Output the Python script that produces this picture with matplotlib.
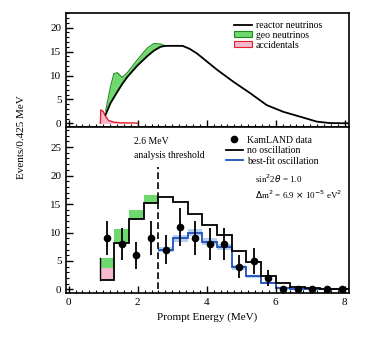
import numpy as np
import matplotlib
matplotlib.use("Agg")
import matplotlib.pyplot as plt
from matplotlib.lines import Line2D
from matplotlib.patches import Patch
from matplotlib.ticker import MultipleLocator

# ---- top panel: expected spectra ----
reactor_e = [1.07, 1.21, 1.31, 1.41, 1.55, 1.70, 1.98, 2.27, 2.47, 2.66, 2.80, 3.30,
             3.50, 3.72, 4.30, 4.77, 5.26, 5.74, 6.22, 6.70, 7.19, 7.57, 8.12]
reactor_n = [1.8, 4.2, 5.4, 6.6, 8.2, 9.7, 12.0, 14.0, 15.2, 16.0, 16.2, 16.2,
             15.6, 14.6, 11.2, 8.7, 6.3, 3.8, 2.4, 1.4, 0.35, 0.05, 0.0]
geo_top = [2.6, 7.6, 10.4, 10.6, 9.6, 10.6, 13.2, 15.7, 16.7, 16.6, 16.2]   # upper edge over reactor_e[:11]
acc_e = [0.92, 0.93, 1.00, 1.07, 1.15, 1.30, 1.50, 1.98, 1.99]
acc_n = [0.0, 2.8, 2.5, 1.5, 0.6, 0.25, 0.1, 0.05, 0.0]

# ---- bottom panel: 0.425 MeV bins ----
edges = [0.9, 1.325, 1.75, 2.175, 2.6, 3.025, 3.45, 3.875, 4.3, 4.725,
         5.15, 5.575, 6.0, 6.425, 6.85, 7.275, 7.7, 8.125]
data_n = [9, 8, 6, 9, 7, 11, 9, 8, 8, 4, 5, 2, 0, 0, 0, 0, 0]
data_err = [3.0, 2.8, 2.4, 3.0, 2.6, 3.3, 3.0, 2.8, 2.8, 2.0, 2.2, 1.4, 0, 0, 0, 0, 0]
no_osc = [1.7, 8.1, 12.3, 15.1, 16.2, 15.4, 13.2, 11.3, 9.6, 6.8, 4.9, 2.4, 1.2, 0.5, 0.3, 0.1, 0.0]
acc_bins = [2.0, 0.0, 0.0, 0.0]          # first four bins, stacked on no_osc
geo_bins = [1.8, 2.5, 1.6, 1.5]          # stacked on top of accidentals
best_fit = [7.0, 9.0, 10.0, 8.4, 7.5, 3.9, 2.3, 1.1, 0.3, 0.1, 0.0, 0.0, 0.0]   # bins above 2.6 MeV
best_fit_err = [0.5, 0.6, 0.7, 0.6, 0.5, 0.4, 0.3, 0.2, 0.1, 0.05, 0.0, 0.0, 0.0]
threshold = 2.6

GREEN, GREEN_EDGE = "#6fd86f", "#1f8a1f"
PINK, RED = "#f6b8cc", "#e0202a"
BLUE, BLUE_BAND = "#1f4fbf", "#b5cff2"

plt.rcParams.update({"font.family": ["Liberation Serif", "DejaVu Serif"],
                     "font.size": 8, "axes.linewidth": 1.2})
fig = plt.figure(figsize=(3.83, 3.39), dpi=100)
axT = fig.add_axes([0.173, 0.625, 0.738, 0.337])
axB = fig.add_axes([0.173, 0.136, 0.738, 0.489], sharex=axT)

# top
edges_a = np.array(edges)
centers = (edges_a[:-1] + edges_a[1:]) / 2
nb = len(geo_top)
axT.fill_between(reactor_e[:nb], reactor_n[:nb], geo_top, color=GREEN, lw=0)
axT.plot(reactor_e[:nb], geo_top, color=GREEN_EDGE, lw=0.8)
axT.fill_between(acc_e, 0, acc_n, color=PINK, lw=0)
axT.plot(acc_e, acc_n, color=RED, lw=1.0)
axT.plot(reactor_e, reactor_n, color="black", lw=1.3)
axT.set_ylim(-0.8, 23.1)
axT.yaxis.set_major_locator(MultipleLocator(5))
axT.yaxis.set_minor_locator(MultipleLocator(1))
axT.tick_params(labelbottom=False)
handles = [Line2D([], [], color="black", lw=1.3),
           Patch(facecolor=GREEN, edgecolor=GREEN_EDGE, lw=0.8),
           Patch(facecolor=PINK, edgecolor=RED, lw=0.8)]
axT.legend(handles, ["reactor neutrinos", "geo neutrinos", "accidentals"],
           loc="upper left", bbox_to_anchor=(0.57, 0.99), frameon=False, fontsize=7,
           handlelength=1.8, handleheight=0.6, labelspacing=0.1, handletextpad=0.4,
           borderpad=0.2)

# bottom
base = np.array(no_osc[:4])
axB.bar(centers[:4], acc_bins, width=0.425, bottom=base, color=PINK, lw=0)
axB.bar(centers[:4], geo_bins, width=0.425, bottom=base + np.array(acc_bins), color=GREEN, lw=0)
axB.plot([edges[0], edges[0]], [no_osc[0], no_osc[0] + acc_bins[0] + geo_bins[0]], color="black", lw=1.0)
bf = np.array(best_fit)
bfe = np.array(best_fit_err)
axB.stairs(bf + bfe, edges[4:], baseline=bf - bfe, fill=True, color=BLUE_BAND, lw=0)
axB.stairs(best_fit, edges[4:], baseline=None, color=BLUE, lw=1.3)
axB.stairs(no_osc, edges, baseline=None, color="black", lw=1.3)
axB.errorbar(centers, data_n, yerr=data_err, fmt="o", color="black", ms=4.5,
             elinewidth=1.3, capsize=0, zorder=5)
axB.plot([threshold, threshold], [0, 21.5], color="black", lw=1.2, ls=(0, (4, 2)))
axB.text(1.9, 25.9, "2.6 MeV", fontsize=7, va="center")
axB.text(1.9, 23.6, "analysis threshold", fontsize=7, va="center")
axB.set_ylim(-0.6, 28.5)
axB.set_xlim(-0.07, 8.12)
axB.yaxis.set_major_locator(MultipleLocator(5))
axB.yaxis.set_minor_locator(MultipleLocator(1))
axB.xaxis.set_major_locator(MultipleLocator(2))
axB.xaxis.set_minor_locator(MultipleLocator(0.2))
handles = [Line2D([], [], color="black", marker="o", ls="none", ms=4.5),
           Line2D([], [], color="black", lw=1.3),
           Line2D([], [], color=BLUE, lw=1.3)]
axB.legend(handles, ["KamLAND data", "no oscillation", "best-fit oscillation"],
           loc="upper left", bbox_to_anchor=(0.54, 0.99), frameon=False, fontsize=7,
           handlelength=1.8, labelspacing=0.15, handletextpad=0.4, borderpad=0.2)
axB.text(5.4, 19.4, r"sin$^2$2$\theta$ = 1.0", fontsize=6.5, va="center")
axB.text(5.4, 16.7, r"$\Delta$m$^2$ = 6.9 $\times$ 10$^{-5}$ eV$^2$", fontsize=6.5, va="center")
axB.set_xlabel("Prompt Energy (MeV)", fontsize=8)

for ax in (axT, axB):
    ax.tick_params(which="both", direction="in", top=False, right=False, labelsize=8)
    ax.tick_params(which="major", length=5, width=1.0)
    ax.tick_params(which="minor", length=2.5, width=0.8)

fig.text(0.055, 0.596, "Events/0.425 MeV", rotation=90, ha="center", va="center", fontsize=8)
fig.savefig("out.png", dpi=100)
